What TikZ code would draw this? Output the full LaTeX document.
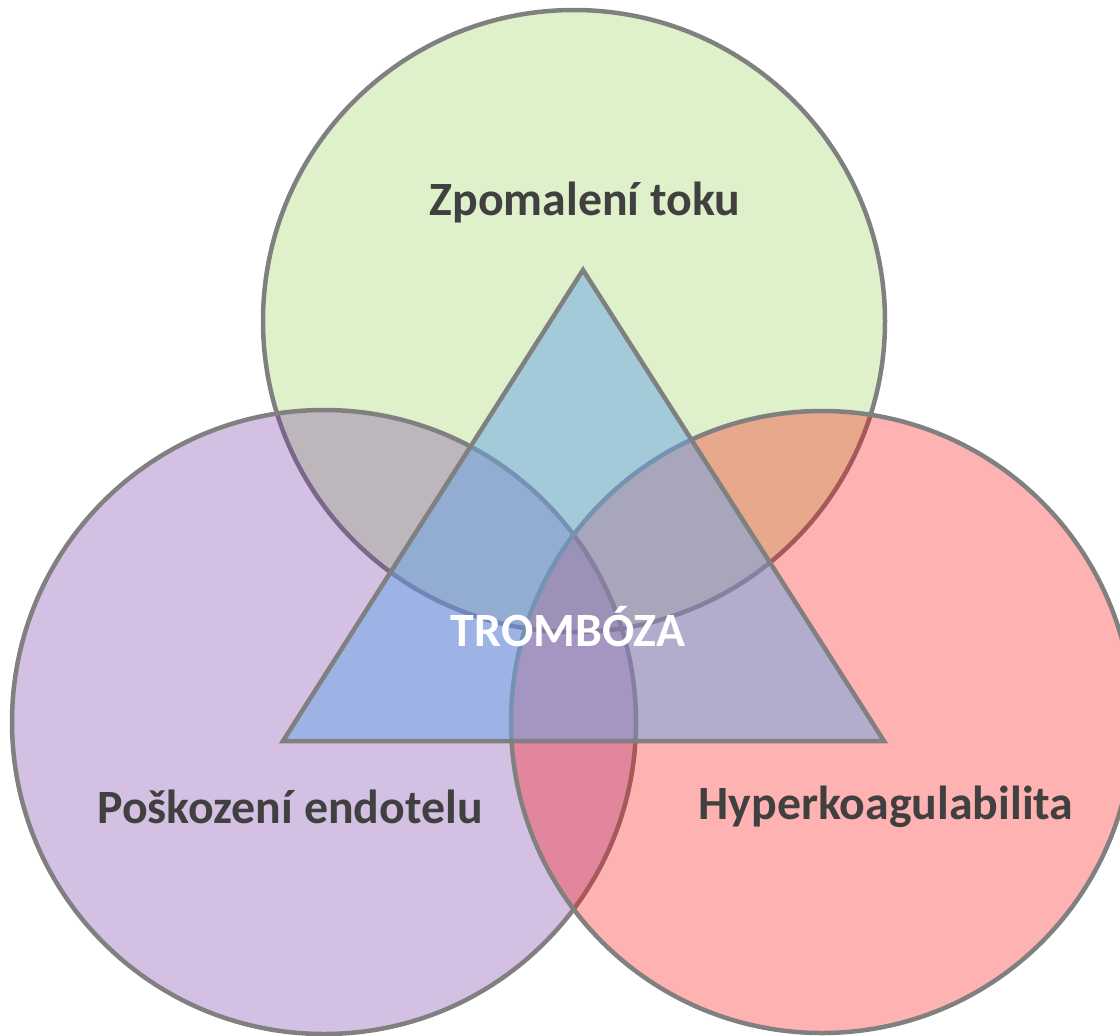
\documentclass[tikz,border=0pt]{standalone}
\usepackage{fontspec}
\setmainfont{Carlito}
\definecolor{slowgreen}{HTML}{92D050}
\definecolor{endopurple}{HTML}{7030A0}
\definecolor{coagred}{HTML}{FF0000}
\definecolor{thrombblue}{RGB}{105,165,232}
\definecolor{edgegray}{HTML}{808080}
\definecolor{labelgray}{HTML}{404040}

\begin{document}
\begin{tikzpicture}[
    x=0.025cm, y=-0.025cm,
    line width=3.2pt,
    ring/.style={draw=edgegray, fill opacity=0.3},
    wedge/.style={draw=edgegray, fill=thrombblue, fill opacity=0.5, line join=miter},
    factor/.style={font=\fontsize{34}{40}\selectfont\bfseries, text=labelgray},
]
\useasboundingbox (0,0) rectangle (1120,1035);
\clip (0,0) rectangle (1120,1035);

% Kruhy
\coordinate (slow) at (574,321);
\coordinate (endo) at (324,722);
\coordinate (hyper) at (822,722);
\draw[ring, fill=slowgreen] (slow) circle[radius=311];
\draw[ring, fill=endopurple] (endo) circle[radius=312];
\draw[ring, fill=coagred] (hyper) circle[radius=311];

% Trojuhelnik
\coordinate (apex) at (583,270);
\coordinate (lcorner) at (283,741);
\coordinate (rcorner) at (884,741);
\draw[wedge] (apex) -- (lcorner) -- (rcorner) -- cycle;

% Popisky
\node[factor] (slowlabel) at (585,202) {Zpomalení toku};
\node[factor] (endolabel) at (290,807) {Poškození endotelu};
\node[factor] (hyperlabel) at (886,807) {Hyperkoagulabilita};
\node[factor, text=white] (thromb) at (568,627) {TROMBÓZA};

\end{tikzpicture}
\end{document}
